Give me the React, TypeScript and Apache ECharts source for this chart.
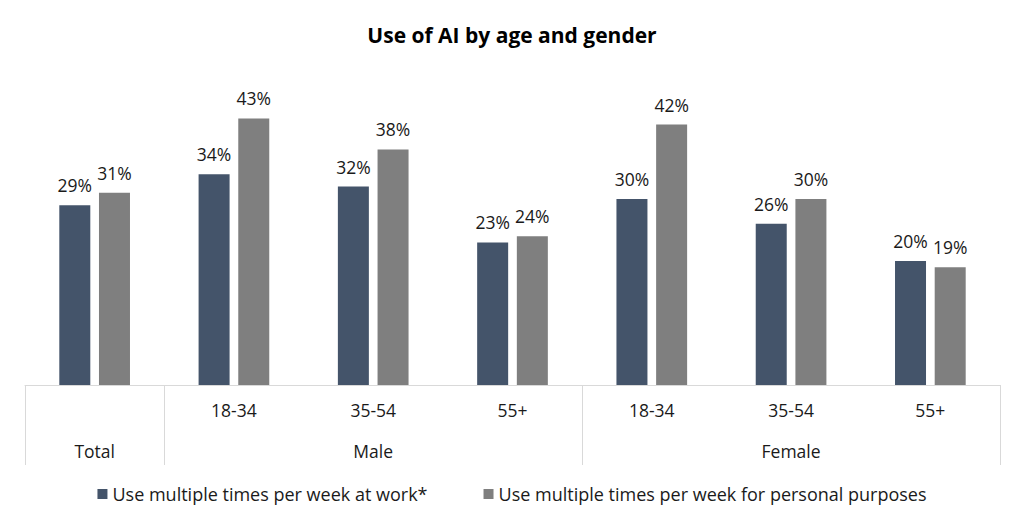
import React, { useEffect, useRef } from "react";
import * as echarts from "echarts";

const subCategories = ["", "18-34", "35-54", "55+", "18-34", "35-54", "55+"];
const groupLabels = ["Total", "", "Male", "", "", "Female", ""];
const workValues = [29, 34, 32, 23, 30, 26, 20];
const personalValues = [31, 43, 38, 24, 42, 30, 19];
const seriesNames = [
  "Use multiple times per week at work*",
  "Use multiple times per week for personal purposes",
];
const groupStartIndices = [0, 1, 4];

const FONT = "Open Sans";
const TEXT = "#1a1a1a";

export default function App() {
  const ref = useRef<HTMLDivElement>(null);
  useEffect(() => {
    document.body.style.margin = "0";
    const chart = echarts.init(ref.current!, null, { renderer: "svg" });
    const labelOpt = {
      show: true,
      position: "top",
      distance: 11,
      formatter: (p: any) => p.value + "%",
      color: TEXT,
      fontSize: 17.5,
      fontFamily: FONT,
    };
    chart.setOption({
      animation: false,
      backgroundColor: "#ffffff",
      textStyle: { fontFamily: FONT },
      title: {
        text: "Use of AI by age and gender",
        left: "center",
        top: 19,
        textStyle: { fontSize: 21, fontWeight: "bold", color: "#000", fontFamily: FONT },
      },
      legend: {
        bottom: 21,
        left: "center",
        icon: "rect",
        itemWidth: 10,
        itemHeight: 10,
        itemGap: 56,
        textStyle: { fontSize: 18, color: TEXT, fontFamily: FONT },
        data: seriesNames,
      },
      grid: { left: 25, right: 24, top: 75, bottom: 144, containLabel: false },
      xAxis: [
        {
          type: "category",
          data: subCategories,
          axisLine: { show: true, lineStyle: { color: "#d9d9d9", width: 1 } },
          axisTick: {
            show: true,
            length: 80,
            lineStyle: { color: "#d9d9d9", width: 1 },
            interval: (index: number) => groupStartIndices.includes(index),
          },
          axisLabel: { color: TEXT, fontSize: 17.5, fontFamily: FONT, margin: 16, interval: 0 },
        },
        {
          type: "category",
          data: groupLabels,
          position: "bottom",
          offset: 42,
          axisLine: { show: false },
          axisTick: { show: false },
          axisLabel: { color: TEXT, fontSize: 17.5, fontFamily: FONT, margin: 15, interval: 0 },
        },
      ],
      yAxis: { type: "value", min: 0, max: 50, show: false, splitLine: { show: false } },
      series: [
        {
          name: seriesNames[0],
          type: "bar",
          xAxisIndex: 0,
          data: workValues,
          barWidth: 31,
          barGap: "28%",
          itemStyle: { color: "#44546a" },
          label: labelOpt,
        },
        {
          name: seriesNames[1],
          type: "bar",
          xAxisIndex: 0,
          data: personalValues,
          barWidth: 31,
          barGap: "28%",
          itemStyle: { color: "#7f7f7f" },
          label: labelOpt,
        },
      ],
    });
    return () => chart.dispose();
  }, []);
  return <div ref={ref} style={{ width: 1024, height: 529 }} />;
}
